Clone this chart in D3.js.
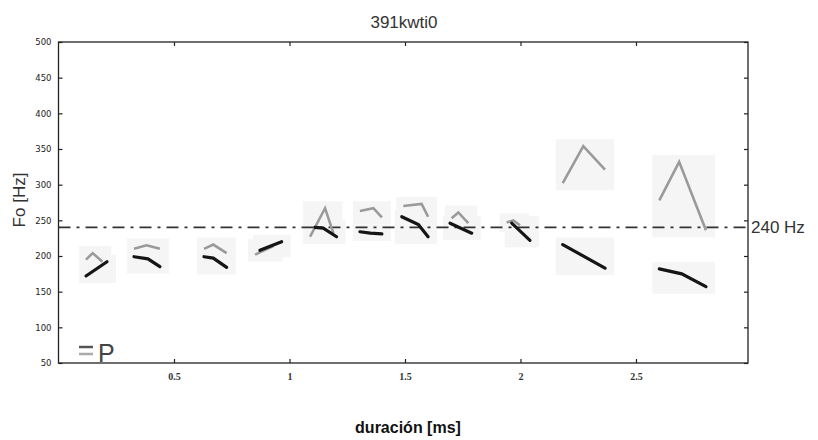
<!DOCTYPE html>
<html>
<head>
<meta charset="utf-8">
<script src="https://cdn.jsdelivr.net/npm/d3@7/dist/d3.min.js"></script>
<style>
  body { margin: 0; background: #fff; }
</style>
</head>
<body>
<div id="chartContainer"></div>
<script>
// F0 contours, [time, Hz]
var blackSegments = [
    [[0.119, 172], [0.21, 192]],
    [[0.327, 199], [0.387, 196], [0.439, 185]],
    [[0.63, 199], [0.67, 197], [0.728, 184]],
    [[0.872, 208], [0.966, 220]],
    [[1.11, 240], [1.146, 239], [1.204, 227]],
    [[1.305, 234], [1.35, 232], [1.4, 231]],
    [[1.486, 255], [1.558, 244], [1.6, 227]],
    [[1.695, 246], [1.789, 232]],
    [[1.962, 246], [2.041, 222]],
    [[2.183, 216], [2.366, 183]],
    [[2.601, 182], [2.698, 175], [2.803, 157]]
];
var graySegments = [
    [[0.119, 195], [0.148, 204], [0.19, 192]],
    [[0.327, 210], [0.381, 215], [0.439, 210]],
    [[0.63, 210], [0.67, 216], [0.728, 204]],
    [[0.851, 202], [0.93, 214]],
    [[1.089, 227], [1.154, 267], [1.19, 232]],
    [[1.305, 263], [1.363, 267], [1.4, 254]],
    [[1.493, 270], [1.572, 273], [1.6, 255]],
    [[1.702, 253], [1.731, 261], [1.774, 246]],
    [[1.94, 247], [1.969, 250], [1.998, 243]],
    [[2.183, 302], [2.272, 354], [2.366, 321]],
    [[2.601, 278], [2.687, 332], [2.803, 236]]
];
var xTicks = [0.5, 1, 1.5, 2, 2.5];
var yTicks = [50, 100, 150, 200, 250, 300, 350, 400, 450, 500];
var refLevel = 240;

function init() {
    var w = 818, h = 440;
    var left = 58.5, right = 748, top = 42, bottom = 363;

    var svg = d3.select("#chartContainer")
                .append("svg")
                .attr("width", w)
                .attr("height", h);

    var x = d3.scaleLinear().domain([0, 2.985]).range([left, right]);
    var y = d3.scaleLinear().domain([50, 500]).range([bottom, top]);

    // faint scan patches behind each contour
    blackSegments.concat(graySegments).forEach(function(seg) {
        var x0 = x(d3.min(seg, d => d[0])) - 7, x1 = x(d3.max(seg, d => d[0])) + 9;
        var y0 = y(d3.max(seg, d => d[1])) - 7, y1 = y(d3.min(seg, d => d[1])) + 7;
        svg.append("rect")
           .attr("x", x0).attr("y", y0)
           .attr("width", x1 - x0).attr("height", y1 - y0)
           .attr("fill", "#f5f5f5");
    });

    // frame
    svg.append("rect")
       .attr("x", left).attr("y", top)
       .attr("width", right - left).attr("height", bottom - top)
       .attr("fill", "none")
       .attr("stroke", "#222")
       .attr("stroke-width", 1.3);

    // ticks pointing inward
    var xAxis = d3.axisBottom(x).tickValues(xTicks).tickSize(-4).tickPadding(10).tickFormat(d3.format("~g"));
    var gx = svg.append("g").attr("transform", "translate(0," + bottom + ")").call(xAxis);
    gx.select(".domain").remove();
    gx.selectAll("line").attr("stroke", "#222").attr("stroke-width", 1.2);
    gx.selectAll("text")
      .attr("font-family", "Liberation Serif, serif")
      .attr("font-weight", "bold")
      .attr("font-size", 10)
      .attr("fill", "#333");

    var gxt = svg.append("g").attr("transform", "translate(0," + top + ")")
                 .call(d3.axisTop(x).tickValues(xTicks).tickSize(-4).tickFormat(""));
    gxt.select(".domain").remove();
    gxt.selectAll("line").attr("stroke", "#222").attr("stroke-width", 1.2);

    var yAxis = d3.axisLeft(y).tickValues(yTicks).tickSize(-4).tickPadding(7);
    var gy = svg.append("g").attr("transform", "translate(" + left + ",0)").call(yAxis);
    gy.select(".domain").remove();
    gy.selectAll("line").attr("stroke", "#222").attr("stroke-width", 1.2);
    gy.selectAll("text")
      .attr("font-family", "DejaVu Sans, sans-serif")
      .attr("font-size", 8.5)
      .attr("fill", "#222");

    var gyr = svg.append("g").attr("transform", "translate(" + right + ",0)")
                 .call(d3.axisRight(y).tickValues(yTicks).tickSize(-4).tickFormat(""));
    gyr.select(".domain").remove();
    gyr.selectAll("line").attr("stroke", "#222").attr("stroke-width", 1.2);

    // reference line
    svg.append("line")
       .attr("x1", left).attr("x2", right)
       .attr("y1", y(refLevel)).attr("y2", y(refLevel))
       .attr("stroke", "#333")
       .attr("stroke-width", 1.8)
       .attr("stroke-dasharray", "12,6,3,6");

    svg.append("text")
       .attr("x", right + 3).attr("y", y(refLevel) + 6)
       .attr("font-family", "Liberation Sans, Arial, sans-serif")
       .attr("font-size", 17)
       .attr("fill", "#333")
       .text(refLevel + " Hz");

    var line = d3.line().x(d => x(d[0])).y(d => y(d[1]));

    svg.selectAll("path.gray")
       .data(graySegments)
       .enter()
       .append("path")
       .attr("class", "gray")
       .attr("d", line)
       .attr("fill", "none")
       .attr("stroke", "#9a9a9a")
       .attr("stroke-width", 2.6)
       .attr("stroke-linejoin", "miter");

    svg.selectAll("path.black")
       .data(blackSegments)
       .enter()
       .append("path")
       .attr("class", "black")
       .attr("d", line)
       .attr("fill", "none")
       .attr("stroke", "#151515")
       .attr("stroke-width", 3.2)
       .attr("stroke-linecap", "round");

    // "=P" mark
    svg.append("line").attr("x1", 79).attr("x2", 93).attr("y1", 347).attr("y2", 347)
       .attr("stroke", "#555").attr("stroke-width", 2.5);
    svg.append("line").attr("x1", 79).attr("x2", 93).attr("y1", 354).attr("y2", 354)
       .attr("stroke", "#aaa").attr("stroke-width", 2.5);
    svg.append("text")
       .attr("x", 98).attr("y", 362)
       .attr("font-family", "Liberation Sans, Arial, sans-serif")
       .attr("font-size", 25)
       .attr("fill", "#444")
       .text("P");

    // title and axis labels
    svg.append("text")
       .attr("x", 404).attr("y", 28)
       .attr("text-anchor", "middle")
       .attr("font-family", "Liberation Sans, Arial, sans-serif")
       .attr("font-size", 17)
       .attr("fill", "#333")
       .text("391kwti0");

    svg.append("text")
       .attr("transform", "translate(25,200) rotate(-90)")
       .attr("text-anchor", "middle")
       .attr("font-family", "Liberation Sans, Arial, sans-serif")
       .attr("font-size", 17)
       .attr("fill", "#333")
       .text("Fo [Hz]");

    svg.append("text")
       .attr("x", 408).attr("y", 433)
       .attr("text-anchor", "middle")
       .attr("font-family", "Liberation Sans, Arial, sans-serif")
       .attr("font-weight", "bold")
       .attr("font-size", 16)
       .attr("fill", "#111")
       .text("duración [ms]");
}

window.onload = init;
</script>
</body>
</html>
